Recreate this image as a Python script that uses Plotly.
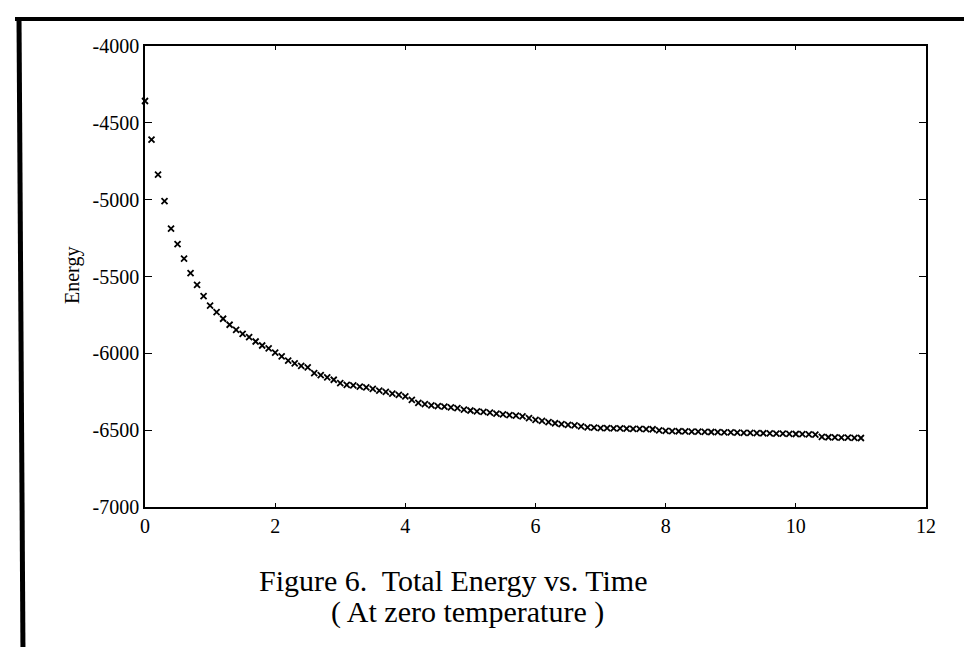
import plotly.graph_objects as go

time = [0.0, 0.1, 0.2, 0.3, 0.4, 0.5, 0.6, 0.7, 0.8, 0.9,
        1.0, 1.1, 1.2, 1.3, 1.4, 1.5, 1.6, 1.7, 1.8, 1.9,
        2.0, 2.1, 2.2, 2.3, 2.4, 2.5, 2.6, 2.7, 2.8, 2.9,
        3.0, 3.1, 3.2, 3.3, 3.4, 3.5, 3.6, 3.7, 3.8, 3.9,
        4.0, 4.1, 4.2, 4.3, 4.4, 4.5, 4.6, 4.7, 4.8, 4.9,
        5.0, 5.1, 5.2, 5.3, 5.4, 5.5, 5.6, 5.7, 5.8, 5.9,
        6.0, 6.1, 6.2, 6.3, 6.4, 6.5, 6.6, 6.7, 6.8, 6.9,
        7.0, 7.1, 7.2, 7.3, 7.4, 7.5, 7.6, 7.7, 7.8, 7.9,
        8.0, 8.1, 8.2, 8.3, 8.4, 8.5, 8.6, 8.7, 8.8, 8.9,
        9.0, 9.1, 9.2, 9.3, 9.4, 9.5, 9.6, 9.7, 9.8, 9.9,
        10.0, 10.1, 10.2, 10.3, 10.4, 10.5, 10.6, 10.7, 10.8, 10.9,
        11.0]

energy = [-4358, -4609, -4837, -5010, -5189, -5289, -5383, -5478, -5554, -5627,
          -5690, -5732, -5775, -5814, -5847, -5873, -5895, -5923, -5949, -5968,
          -5995, -6020, -6047, -6066, -6082, -6092, -6129, -6142, -6157, -6172,
          -6194, -6205, -6209, -6216, -6222, -6231, -6242, -6251, -6262, -6270,
          -6280, -6303, -6322, -6330, -6338, -6344, -6347, -6352, -6357, -6366,
          -6372, -6377, -6381, -6386, -6392, -6397, -6402, -6406, -6410, -6422,
          -6433, -6440, -6448, -6455, -6460, -6465, -6469, -6476, -6482, -6484,
          -6486, -6487, -6488, -6489, -6490, -6491, -6492, -6493, -6494, -6502,
          -6504, -6506, -6507, -6508, -6509, -6510, -6511, -6512, -6513, -6514,
          -6515, -6516, -6517, -6518, -6519, -6520, -6521, -6522, -6523, -6524,
          -6525, -6526, -6527, -6529, -6543, -6546, -6547, -6548, -6549, -6550,
          -6551]

x_ticks = [0, 2, 4, 6, 8, 10, 12]
y_ticks = [-7000, -6500, -6000, -5500, -5000, -4500, -4000]

caption_line1 = "Figure 6.&nbsp; Total Energy vs. Time"
caption_line2 = "( At zero temperature )"
y_title = "Energy"

W, H = 972, 647
L, R, T, B = 137, 54, 38, 148
pw, ph = W - L - R, H - T - B

def px(x):
    return (x - L) / pw

def py(y):
    return (H - B - y) / ph

FONT = "Liberation Serif, Times New Roman, serif"

fig = go.Figure()
fig.add_trace(go.Scatter(
    x=time, y=energy, mode="markers",
    marker=dict(symbol="x-thin", size=6, color="black",
                line=dict(color="black", width=1.8)),
    showlegend=False, cliponaxis=False,
))

axis_common = dict(
    showgrid=False, zeroline=False, showline=True, linecolor="black",
    linewidth=1.5, mirror="ticks", ticks="inside", tickcolor="black",
    tickwidth=1.2, tickfont=dict(family=FONT, size=20, color="black"),
)

fig.update_xaxes(range=[0, 12], tickvals=x_ticks,
                 ticktext=[str(v) for v in x_ticks], ticklen=4, **axis_common)
fig.update_yaxes(range=[-7000, -4000], tickvals=y_ticks,
                 ticktext=[str(v) for v in y_ticks], ticklen=7, **axis_common)

annotations = [
    dict(text=y_title, x=px(64), y=py(268), xref="paper", yref="paper",
         showarrow=False, textangle=-90, xanchor="center", yanchor="middle",
         font=dict(family=FONT, size=20, color="black")),
    dict(text=caption_line1, x=px(445), y=py(572), xref="paper", yref="paper",
         showarrow=False, xanchor="center", yanchor="middle",
         font=dict(family=FONT, size=30, color="black")),
    dict(text=caption_line2, x=px(459), y=py(604), xref="paper", yref="paper",
         showarrow=False, xanchor="center", yanchor="middle",
         font=dict(family=FONT, size=30, color="black")),
]

shapes = [
    dict(type="line", xref="paper", yref="paper", x0=px(7), x1=px(972),
         y0=py(11), y1=py(11), line=dict(color="black", width=4)),
    dict(type="line", xref="paper", yref="paper", x0=px(11), x1=px(15),
         y0=py(9), y1=py(647), line=dict(color="black", width=5)),
]

fig.update_layout(
    width=W, height=H,
    margin=dict(l=L, r=R, t=T, b=B, pad=0),
    paper_bgcolor="white", plot_bgcolor="white",
    annotations=annotations, shapes=shapes,
)

fig.write_html("out.html")
